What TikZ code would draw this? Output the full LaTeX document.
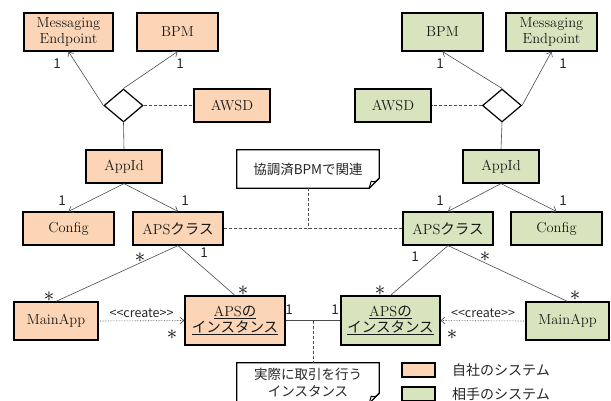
\documentclass[tikz,border=0pt]{standalone}
\usepackage{fontspec}
\newfontfamily\cjk{Noto Sans CJK JP}
\usetikzlibrary{arrows,arrows.meta,positioning,shapes.geometric,calc}

\definecolor{ownfill}{HTML}{FBD5B5}
\definecolor{peerfill}{HTML}{D7E4BD}

\tikzset{
	cls/.style={draw=black,line width=1.2pt,inner sep=1pt,align=center,text=black!90,font=\fontsize{14.5}{16}\selectfont},
	own/.style={cls,fill=ownfill},
	peer/.style={cls,fill=peerfill},
	agg/.style={diamond,draw=black,line width=1.2pt,fill=white,minimum width=39pt,minimum height=33pt,inner sep=0pt},
	link/.style={draw=black!70,line width=0.6pt},
	nav/.style={link,-{Straight Barb[length=4pt,width=7pt]}},
	creates/.style={link,densely dotted,-{Straight Barb[length=4pt,width=7pt]}},
	tie/.style={link,densely dashed},
	memo/.style={align=center,text=black!85,font=\cjk\fontsize{13.5}{17}\selectfont,minimum width=142pt},
	mult/.style={inner sep=0pt,text=black!85,font=\cjk\fontsize{13.5}{13}\selectfont},
	many/.style={inner sep=0pt,font=\fontsize{21}{21}\selectfont},
}

% note outline with a folded corner
\newcommand\dogear[1]{%
	\draw[line width=1.2pt,fill=white] (#1.north west) -- (#1.north east) -- ([yshift=10pt]#1.south east)
		-- ([xshift=-10pt]#1.south east) -- (#1.south west) -- cycle;
	\draw[line width=1pt] ([yshift=10pt]#1.south east) .. controls ([xshift=-4pt,yshift=6pt]#1.south east) .. ([xshift=-8pt,yshift=7pt]#1.south east)
		-- ([xshift=-10pt]#1.south east);
}

\begin{document}
\begin{tikzpicture}[x=1pt,y=-1pt]
	\useasboundingbox (0,0) rectangle (611,400);

	% own system
	\node[own,minimum width=89pt,minimum height=38pt] (meL) at (68.5,32) {Messaging\\Endpoint};
	\node[own,minimum width=81pt,minimum height=38pt] (bpmL) at (177.5,32) {BPM};
	\node[agg] (dL) at (123.5,105.5) {};
	\node[own,minimum width=76pt,minimum height=33pt] (awsdL) at (232,105.5) {AWSD};
	\node[own,minimum width=76pt,minimum height=33pt] (appL) at (124,166.5) {AppId};
	\node[own,minimum width=91pt,minimum height=33pt] (cfgL) at (68.5,228.5) {Config};
	\node[own,minimum width=90pt,minimum height=33pt] (apsL) at (178,228.5) {APS{\cjk クラス}};
	\node[own,minimum width=84pt,minimum height=38pt] (mainL) at (56,321) {MainApp};
	\node[own,minimum width=100pt,minimum height=49pt] (instL) at (235,320.5) {\underline{APS{\cjk の}}\\[0pt]\underline{\cjk インスタンス}};

	% peer system
	\node[peer,minimum width=81pt,minimum height=38pt] (bpmR) at (442.5,32) {BPM};
	\node[peer,minimum width=91pt,minimum height=38pt] (meR) at (551.5,32) {Messaging\\Endpoint};
	\node[agg] (dR) at (502,105.5) {};
	\node[peer,minimum width=76pt,minimum height=33pt] (awsdR) at (393,105.5) {AWSD};
	\node[peer,minimum width=76pt,minimum height=33pt] (appR) at (501,166.5) {AppId};
	\node[peer,minimum width=90pt,minimum height=33pt] (apsR) at (448,228.5) {APS{\cjk クラス}};
	\node[peer,minimum width=91pt,minimum height=33pt] (cfgR) at (556.5,228.5) {Config};
	\node[peer,minimum width=99pt,minimum height=49pt] (instR) at (390.5,320.5) {\underline{APS{\cjk の}}\\[0pt]\underline{\cjk インスタンス}};
	\node[peer,minimum width=83pt,minimum height=38pt] (mainR) at (567.5,321) {MainApp};

	% connectors, left
	\draw[nav] (dL.west) -- (meL.south);
	\draw[nav] (dL.north) -- (bpmL.south);
	\draw[tie] (dL.east) -- (awsdL.west);
	\draw[link] (dL.south) -- (appL.north);
	\draw[nav] (appL.south) -- (cfgL.north);
	\draw[nav] (appL.south) -- (apsL.north);
	\draw[link] (apsL.south) -- (mainL.north);
	\draw[link] (apsL.south) -- (instL.north);
	\draw[creates] (mainL.east) -- node[above=3pt,mult,font=\cjk\fontsize{12.5}{12}\selectfont] (crL) {<<create>>} (instL.west);

	% connectors, right
	\draw[nav] (dR.north) -- (bpmR.south);
	\draw[nav] (dR.east) -- (meR.south);
	\draw[tie] (dR.west) -- (awsdR.east);
	\draw[link] (dR.south) -- (appR.north);
	\draw[nav] (appR.south) -- (apsR.north);
	\draw[nav] (appR.south) -- (cfgR.north);
	\draw[link] (apsR.south) -- (instR.north);
	\draw[link] (apsR.south) -- (mainR.north);
	\draw[creates] (mainR.west) -- node[above=3pt,mult,font=\cjk\fontsize{12.5}{12}\selectfont] (crR) {<<create>>} (instR.east);

	% between the two systems
	\draw[link] (instL.east) -- (instR.west);
	\draw[tie] (apsL.east) -- (apsR.west);

	\node[memo,minimum height=38pt] (noteA) at (308,169) {協調済BPMで関連};
	\dogear{noteA}
	\node[memo] at (noteA) {協調済BPMで関連};
	\coordinate (tapA) at (noteA.south |- apsL.east);
	\draw[tie] (noteA.south) -- (tapA);

	\node[memo,minimum height=40pt] (noteB) at (308,383) {実際に取引を行う\\インスタンス};
	\dogear{noteB}
	\node[memo] at (noteB) {実際に取引を行う\\インスタンス};
	\coordinate (tapB) at ($(instL.east)!0.5!(instR.west)$);
	\draw[tie] (tapB) -- (tapB |- noteB.north);

	% multiplicities
	\node[mult] (m1) at (57,64) {1};
	\node[mult] (m2) at (180,64) {1};
	\node[mult] (m3) at (440,64) {1};
	\node[mult] (m4) at (563,64) {1};
	\node[mult] (m5) at (62,201) {1};
	\node[mult] (m6) at (185,201) {1};
	\node[mult] (m7) at (440,201) {1};
	\node[mult] (m8) at (563,201) {1};
	\node[many] (s1) at (140,258) {$\ast$};
	\node[mult] (m9) at (204,253) {1};
	\node[many] (s2) at (49,297) {$\ast$};
	\node[many] (s3) at (243,291) {$\ast$};
	\node[many] (s4) at (172,335) {$\ast$};
	\node[mult] (m10) at (289,310) {1};
	\node[mult] (m11) at (415,257) {1};
	\node[many] (s5) at (485,257) {$\ast$};
	\node[many] (s6) at (380,291) {$\ast$};
	\node[mult] (m12) at (335,310) {1};
	\node[many] (s7) at (452,335) {$\ast$};
	\node[many] (s8) at (575,296) {$\ast$};

	% legend
	\node[draw=black,line width=1.2pt,fill=ownfill,minimum width=33pt,minimum height=14pt,inner sep=0pt] (keyO) at (418.5,370) {};
	\node[draw=black,line width=1.2pt,fill=peerfill,minimum width=33pt,minimum height=14pt,inner sep=0pt] (keyG) at (418.5,394) {};
	\node[anchor=west,inner sep=0pt,text=black!85,font=\cjk\fontsize{14}{14}\selectfont] (keyOt) at (452,370) {自社のシステム};
	\node[anchor=west,inner sep=0pt,text=black!85,font=\cjk\fontsize{14}{14}\selectfont] (keyGt) at (452,394) {相手のシステム};
\end{tikzpicture}
\end{document}
